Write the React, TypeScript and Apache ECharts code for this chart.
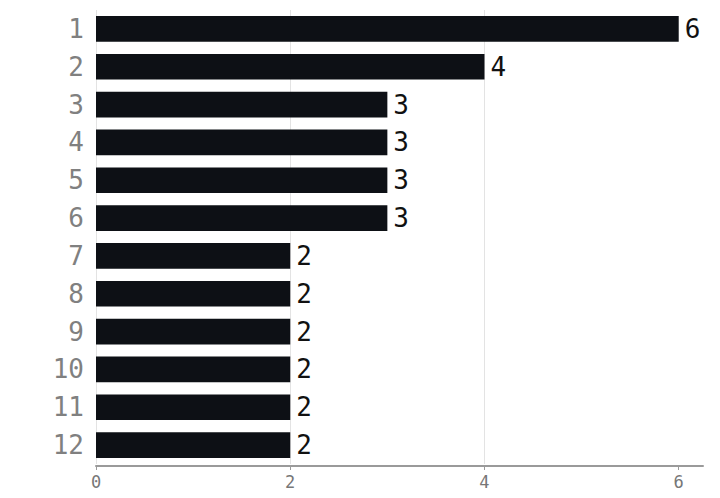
import React, { useEffect, useRef } from "react";
import * as echarts from "echarts";

const categories = ["1", "2", "3", "4", "5", "6", "7", "8", "9", "10", "11", "12"];
const values = [6, 4, 3, 3, 3, 3, 2, 2, 2, 2, 2, 2];
const xTicks = [0, 2, 4, 6];

export default function App() {
  const ref = useRef<HTMLDivElement>(null);
  useEffect(() => {
    const chart = echarts.init(ref.current!, null, { renderer: "svg" });
    const font = "'DejaVu Sans Mono', monospace";
    chart.setOption({
      animation: false,
      grid: { left: 88, right: 9, top: 2, bottom: 23, containLabel: false },
      xAxis: {
        type: "value",
        min: 0,
        max: 6.25,
        interval: 2,
        offset: 2,
        axisLine: { show: true, lineStyle: { color: "#9a9a9a", width: 2 } },
        axisTick: { show: true, length: 4, customValues: xTicks, lineStyle: { color: "#9a9a9a" } },
        axisLabel: { color: "#777", fontFamily: font, fontSize: 17, margin: 7, customValues: xTicks },
        splitLine: { show: true, showMaxLine: false, lineStyle: { color: "#e3e3e3" } },
      },
      yAxis: {
        type: "category",
        data: categories,
        inverse: true,
        axisLine: { show: false },
        axisTick: { show: false },
        axisLabel: { color: "#808080", fontFamily: font, fontSize: 26, margin: 12 },
      },
      series: [
        {
          type: "bar",
          data: values,
          barCategoryGap: "32%",
          itemStyle: { color: "#0d1015" },
          label: {
            show: true,
            position: "right",
            distance: 6,
            color: "#111",
            fontFamily: font,
            fontSize: 26,
          },
        },
      ],
    });
    return () => chart.dispose();
  }, []);
  return <div ref={ref} style={{ width: 704, height: 482 }} />;
}
